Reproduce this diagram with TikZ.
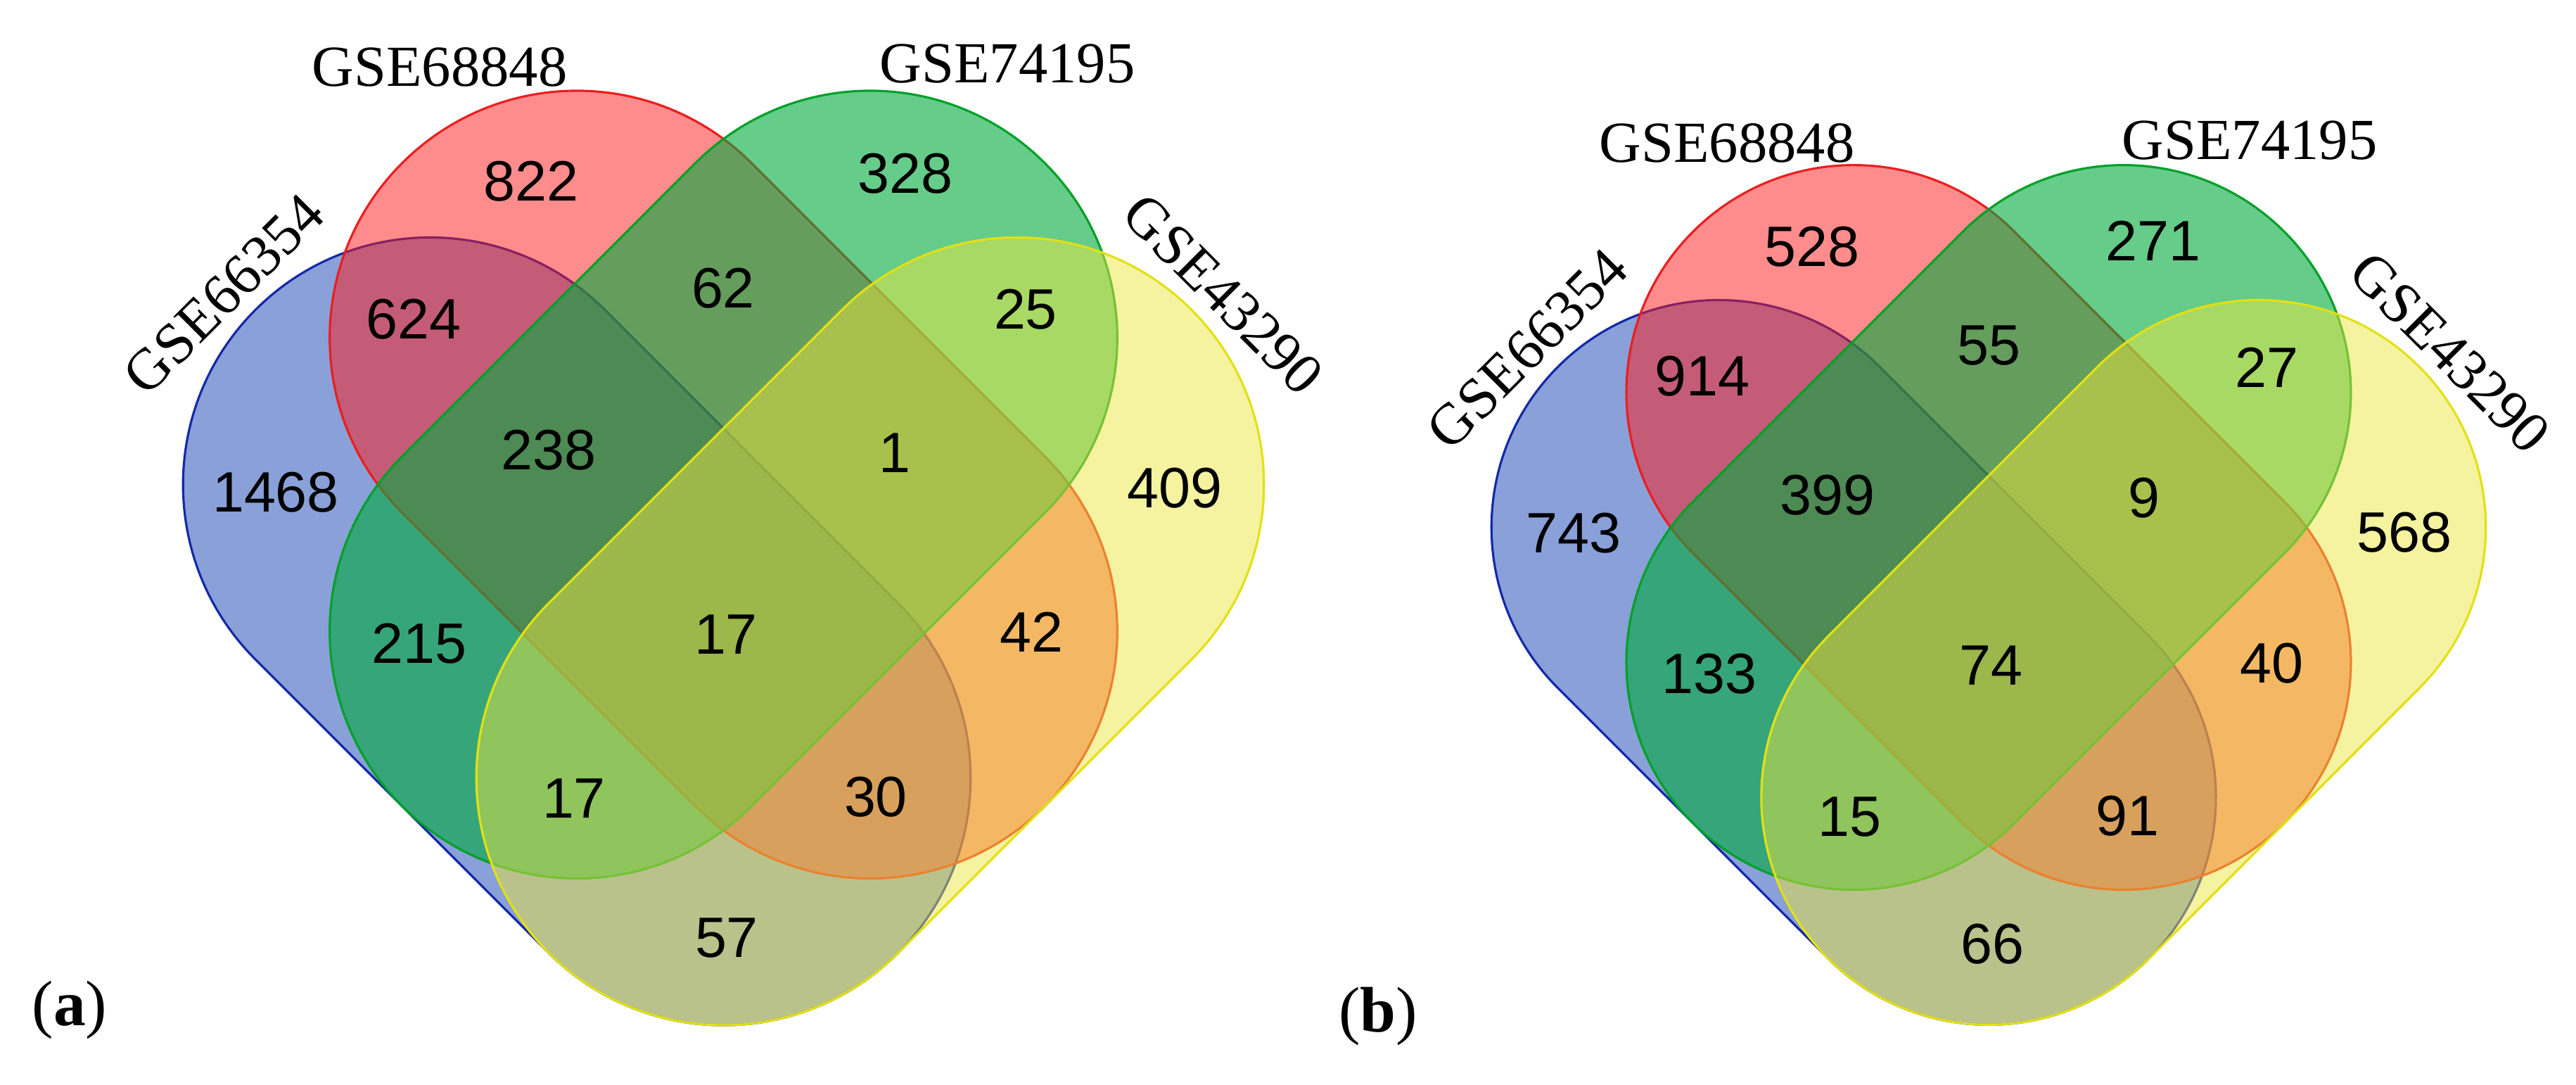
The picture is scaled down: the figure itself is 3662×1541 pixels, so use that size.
\documentclass[tikz,border=0pt]{standalone}
\usepackage{fontspec}
\setmainfont{Liberation Serif}
\newfontfamily\numfont{Liberation Sans}

\definecolor{setblue}{RGB}{19,65,177}
\definecolor{setred}{RGB}{255,25,25}
\definecolor{setgreen}{RGB}{0,170,60}
\definecolor{setyellow}{RGB}{235,229,65}
\definecolor{blueline}{RGB}{20,40,170}
\definecolor{redline}{RGB}{235,30,30}
\definecolor{greenline}{RGB}{0,160,40}
\definecolor{yellowline}{RGB}{225,225,20}

% one set of the diagram: style, midpoint, angle of the axis
\newcommand{\vennset}[3]{%
  \draw[#1, shift={#2}, rotate=#3] (-2.828,-3.37) -- (2.828,-3.37)
    arc[start angle=-90, end angle=90, radius=3.37] -- (-2.828,3.37)
    arc[start angle=90, end angle=270, radius=3.37] -- cycle;}

\begin{document}
\begin{tikzpicture}[x=0.01cm,y=0.01cm,
	blueset/.style={fill=setblue,fill opacity=0.5,draw=blueline,line width=0.9pt},
	redset/.style={fill=setred,fill opacity=0.5,draw=redline,line width=0.9pt},
	greenset/.style={fill=setgreen,fill opacity=0.6,draw=greenline,line width=0.9pt},
	yellowset/.style={fill=setyellow,fill opacity=0.5,draw=yellowline,line width=0.9pt},
	count/.style={font=\numfont\fontsize{23pt}{23pt}\selectfont,inner sep=0pt},
	setname/.style={font=\fontsize{23.5pt}{24pt}\selectfont,inner sep=0pt},
	panel/.style={font=\fontsize{26pt}{26pt}\selectfont,inner sep=0pt}]
	\useasboundingbox (0,0) rectangle (3662,1541);

	% (a)
	\begin{scope}[shift={(1028.5,748)},scale=104.25]
		\vennset{blueset}{(-2,-1)}{-45}
		\vennset{redset}{(0,1)}{-45}
		\vennset{greenset}{(0,1)}{45}
		\vennset{yellowset}{(2,-1)}{45}
	\end{scope}
	\node[setname, rotate=45] (a66354) at (318,1123) {GSE66354};
	\node[setname] (a68848) at (625,1446) {GSE68848};
	\node[setname] (a74195) at (1432,1450) {GSE74195};
	\node[setname, rotate=-45] (a43290) at (1739,1123) {GSE43290};
	\node[count] (a-b) at (392,841) {1468};
	\node[count] (a-r) at (755,1283) {822};
	\node[count] (a-g) at (1287,1294) {328};
	\node[count] (a-y) at (1670,847) {409};
	\node[count] (a-br) at (588,1087) {624};
	\node[count] (a-rg) at (1028,1131) {62};
	\node[count] (a-gy) at (1458,1101) {25};
	\node[count] (a-brg) at (780,901) {238};
	\node[count] (a-rgy) at (1272,897) {1};
	\node[count] (a-bg) at (596,626) {215};
	\node[count] (a-brgy) at (1032,639) {17};
	\node[count] (a-ry) at (1466,643) {42};
	\node[count] (a-bgy) at (816,406) {17};
	\node[count] (a-bry) at (1245,408) {30};
	\node[count] (a-by) at (1033,208) {57};
	\node[panel] (a-tag) at (99,105) {(\textbf{a})};

	% (b)
	\begin{scope}[shift={(2827,695.5)},scale=95.9]
		\vennset{blueset}{(-2,-1)}{-45}
		\vennset{redset}{(0,1)}{-45}
		\vennset{greenset}{(0,1)}{45}
		\vennset{yellowset}{(2,-1)}{45}
	\end{scope}
	\node[setname, rotate=45] (b66354) at (2171,1045) {GSE66354};
	\node[setname] (b68848) at (2455,1338) {GSE68848};
	\node[setname] (b74195) at (3198,1341) {GSE74195};
	\node[setname, rotate=-45] (b43290) at (3483,1040) {GSE43290};
	\node[count] (b-b) at (2237,783) {743};
	\node[count] (b-r) at (2576,1190) {528};
	\node[count] (b-g) at (3061,1199) {271};
	\node[count] (b-y) at (3418,784) {568};
	\node[count] (b-br) at (2420,1006) {914};
	\node[count] (b-rg) at (2827,1050) {55};
	\node[count] (b-gy) at (3222,1019) {27};
	\node[count] (b-brg) at (2598,837) {399};
	\node[count] (b-rgy) at (3048,833) {9};
	\node[count] (b-bg) at (2430,583) {133};
	\node[count] (b-brgy) at (2830,595) {74};
	\node[count] (b-ry) at (3229,598) {40};
	\node[count] (b-bgy) at (2629,380) {15};
	\node[count] (b-bry) at (3024,381) {91};
	\node[count] (b-by) at (2832,199) {66};
	\node[panel] (b-tag) at (1959,96) {(\textbf{b})};
\end{tikzpicture}
\end{document}
